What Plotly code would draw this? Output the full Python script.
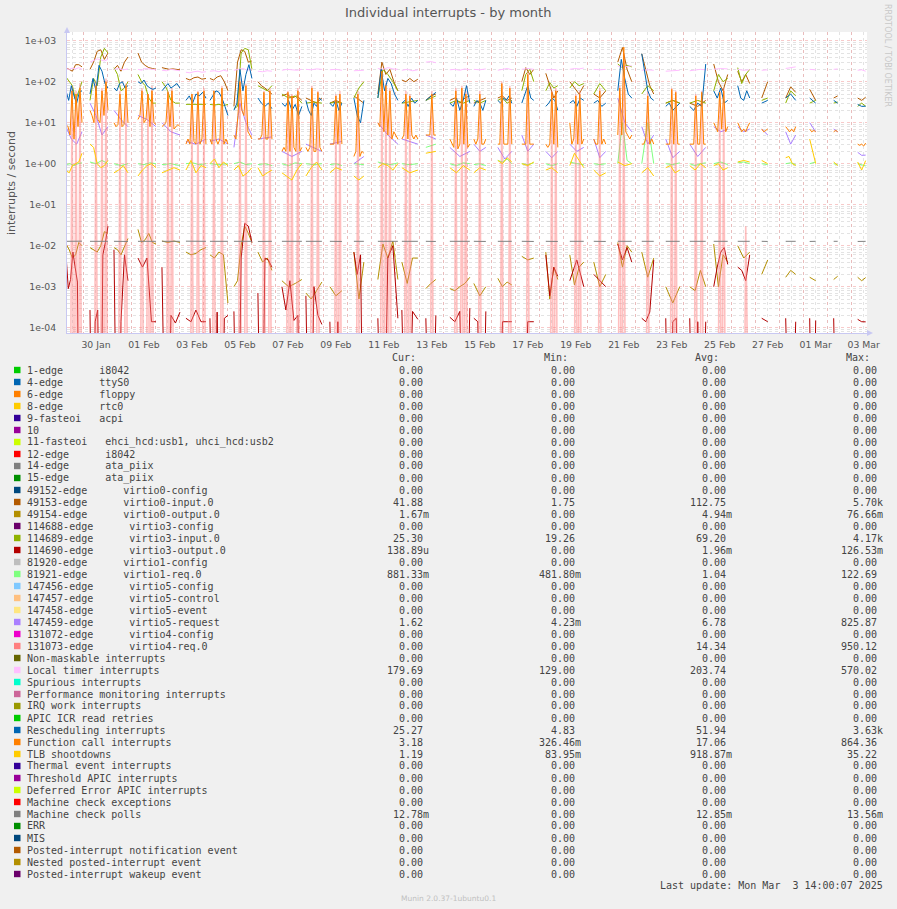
import plotly.graph_objects as go
from datetime import datetime, timedelta

# ---------------- data ----------------
TITLE = "Individual interrupts - by month"
Y_TITLE = "interrupts / second"
X_START = datetime(2025, 1, 29, 7, 0)
X_END = datetime(2025, 3, 3, 15, 20)
FIRST_BLOCK = datetime(2025, 1, 29, 6, 0)
BLOCK_HOURS = [16, 18, 14, 18, 18, 20, 18, 18, 14, 20, 16, 12, 10, 20, 16, 10, 20,
               12, 14, 12, 12, 14, 12, 14, 12, 14, 16, 14, 12, 6, 10, 6, 4, 8]
LABEL_DAYS = ["2025-01-30", "2025-02-01", "2025-02-03", "2025-02-05", "2025-02-07",
              "2025-02-09", "2025-02-11", "2025-02-13", "2025-02-15", "2025-02-17",
              "2025-02-19", "2025-02-21", "2025-02-23", "2025-02-25", "2025-02-27",
              "2025-03-01", "2025-03-03"]
Y_TICKS = [1e-4, 1e-3, 1e-2, 1e-1, 1e0, 1e1, 1e2, 1e3]
Y_TICKTEXT = ["1e-04", "1e-03", "1e-02", "1e-01", "1e+00", "1e+01", "1e+02", "1e+03"]

# per-day blocks of samples (values in interrupts / second)
V49153 = [[220,200,180,260,260,230],[200,300,550,600,350,500],[200,250,180,300,400],
          [500,300,250,220,210,200],[220,210,200,205,200,195],[120,110,125,130,115,120],
          [120,110,130,140,100,60],[25,300,600,550,300,320],[100,80,70,60,50],[45,50,40,45,35],
          [40,35,30,40],[30,35,30],[45,30],[50,300,150,200,100,60],[110,100,120,100,115],
          [35,45,50],[35,40,30,40,45],[30,35,40],[40,45,35,40],[100,220,150,200],[160,80,40,60],
          [100,70,50,80],[50,40,60],[300,680,200,100],[480,200,80,50],[30,35,30],[30,25,35],
          [270,100,60,150],[180,100,150,90],[40,100],[40,75,55],[65,35],[40,45],[40,35,41.88]]
V49154 = [[0.011,0.008,0.005,0.006,0.012,0.01],[0.009,0.008,0.007,0.01,0.022,0.02],
          [0.009,0.008,0.006,0.01,0.015],[0.025,0.012,0.014,0.02,0.012,0.011],
          [0.013,0.012,0.013,0.012],[0.007,0.006,0.0065,0.008,0.009],[0.006,0.005,0.007,0.006,0.0004],
          [0.001,0.0014,0.01,0.03,0.02,0.012],[0.007,0.004,0.005,0.0025],[0.0014,0.001,0.0012,0.0015],
          [0.0007,0.0005,0.0008,0.0013],[0.001,0.0006,0.0008],[0.007,0.0005,0.004],
          [0.0015,0.011,0.005,0.013,0.0015],[0.004,0.0012,0.005,0.005],[0.0009,0.0012,0.0015],
          [0.0009,0.0008,0.001,0.0012,0.0017],[0.0012,0.0006,0.001],[0.0016,0.001,0.0013,0.0011],
          [0.0055,0.0045,0.005],[0.007,0.0005,0.003,0.0015],[0.006,0.0011,0.003,0.004],
          [0.004,0.001,0.002],[0.012,0.003,0.01,0.007],[0.007,0.0017,0.005],[0.001,0.0004,0.001],
          [0.001,0.0008,0.0025,0.001],[0.011,0.001,0.006,0.004],[0.01,0.005,0.007],[0.002,0.0045],
          [0.0017,0.0025,0.002],[0.0017,0.0014],[0.0015,0.0018],[0.0017,0.0014,0.00167]]
V114689 = [[130,100,80,35,60,100],[35,120,80,400,650,500],[220,150,60,70,100],
           [150,100,80,40,30,30],[100,70,35,30,30],[28,28,29,28,28],[28,27,28,26,28],
           [22,25,500,650,600,200],[80,70,60,80],[50,40,45,30],[30,32,30],[30,32,30],[40,70,100],
           [40,200,150,100,60],[30,32,35],[35,40,45],[30,35,30,35],[35,30,35],[35,40,30,35],
           [60,150,200,100],[60,95,70,80],[70,100,80,90],[50,90,60],[270,220,250,230],[50,80,60],
           [30,35,30],[30,35,30],[60,150,100,120],[220,90,150,200],[35,40],[30,60,45],[30,35],
           [30,32],[25,30,25.3]]
V114690 = [[0.006,0.0009,0.0015,0.007,0.003,0.0013,0,0],[0.00027,0,0.00014,0.00027,0,0.006,0.012,0.03],
           [0.008,0,0.00014,0.006,0.0014],[0.005,0.003,0.005,0.00014,0.00014],
           [0.003,0,0.0002,0.00013,0.00024],[0.00017,0.00014,0.00027,0.00014,0.00014],
           [0.00017,0,0.00024,0,0.00017,0.0002],[0.00025,0,0.005,0.035,0.03,0.012],
           [0.0007,0,0.005,0.0045,0.003],[0.001,0.00027,0.0014,0.00015,0.0002,0],
           [0.0006,0,0.001,0.0002,0.00012],[0.00014,0,0.00014,0],[0.007,0.002,0.006,0],
           [0.00017,0,0.005,0.01,0.00017],[0.00027,0,0.00025,0.00016],[0.00017,0,0.0002],
           [0.00018,0.00014,0.00025,0,0.0003],[0.00017,0.00014,0,0.00025],[0,0.00014,0.00014,0.00014],
           [0,0.00014,0.00014],[0.006,0.0006,0.003,0.0018],[0.0014,0.0045,0.001],[0.002,0.0014,0.001],
           [0.011,0.0045,0.009,0.004],[0.00017,0.00014,0.00024,0.0045],[0.00017,0,0.00014,0.00017,0],
           [0.00017,0,0.00014,0,0.00014],[0.001,0.003,0.007,0.009,0.0035],[0.003,0.0025,0.0014,0.006],
           [0.00017,0.00014],[0.00017,0,0.00014],[0.00017,0,0.00015],[0.00017,0],[0.00016,0.00014,0.000139]]
V81921 = [[0.95,1.0,0.9,1.0,1.05],[1.1,1.0,1.2,1.0],[1.0,0.9,1.0],[1.0,0.95,1.05,1.0],[0.95,1.0,0.9],
          [1.0,1.05,0.95,1.0],[1.0,0.95,1.0],[1.0,1.1,0.95,1.0],[0.95,1.0,0.9],[1.0,0.9,1.05,1.0],
          [1.0,0.95,1.0],[0.95,1.0,0.9],[1.0,0.95],[1.1,1.0,0.95,1.05],[1.0,0.95,1.0],[2.5,2.8,3.0],
          [1.0,0.9,1.05,1.0],[0.95,1.0,0.9],[1.2,1.1,1.3,1.0],[1.0,0.95,1.05],[1.0,0.9,1.0],
          [1.1,1.0,0.95],[1.0,0.95,1.0],[1.0,10,1.2,1.0],[1.0,10,1.0],[1.0,0.95,1.05],
          [1.0,0.9,1.0,1.05],[1.0,1.1,0.95],[1.05,1.1,1.0],[1.0,0.95],[1.0,1.05,0.95],[1.0,1.1],
          [1.0,0.95],[1.0,0.95,0.881]]
V147459 = [[8,4,3,6],[30,15,5,8],[20,12,8],[15,12,8],[10,6,5],[3.5,3,4],[3.5,4,3],[2.5,30,10,5],
           [4,4.5],[2,1.5,2],[3,2],[3,3.5],[1,1.5],[10,5,3],[4,3],[5,4],[2.5,1.5,2],[3,2,2.5],
           [2.5,1.3,2],[5,2,3],[2,1.4,2],[3,2,2.5],[4,1.4,2],[40,10,6],[8,3,5],[4,1.4,2],
           [3,1.5,2.5],[8,6,7],[8,6,7],[7,5],[6,3,5],[10,6],[7,6],[1.9,1.6,1.62]]
V131073 = [[0,0,0,80,0,60,0,90,0],[0,0,0,100,0,0,70,0,120,0],[0,0,0,60,0,0,90,0],
           [0,0,70,0,0,50,0,80,0,0],[0,0,0,60,0,70,0,0,0,0],[0,0,0,50,0,0,60,0,0,70,0],
           [0,0,60,0,0,0,80,0,0,0],[0,0,0,120,0,0,90,0,0,0],[0,0,0,60,0,0,70,0],
           [0,0,0,60,0,50,0,0,70,0,0],[0,0,0,80,0,0,60,0,0],[0,0,0,50,0,60,0],[0,0,60,0,0,0],
           [0,0,150,0,90,0,70,0,0,0,0],[0,0,60,0,50,0,0,0,0],[0,0,0,60,0,0],
           [0,0,0,70,0,0,80,0,60,0,0],[0,0,0,60,0,0,0],[0,0,100,0,0,0,80,0],[0,0,0,180,0,0,0],
           [0,0,0,60,0,70,0],[0,0,0,50,0,60,0,0],[0,0,0,70,0,0,0],[0,80,0,500,0,0,0,0],
           [0,0,0,60,0,0,0],[0,0,0,70,0,60,0,0],[0,0,0,50,0,0,60,0,0],[0,0,0,60,0,70,0,0],
           [0,0,0,0,0.03,0,0],[0,0,0,0],[0,0,0,0,0,0],[0,0,0,0],[0,0,0],[0,0,0,0,0]]
LOCAL_TIMER = [[210,200,215,205,220,200],[300,330,360,340,320,350],[200,210,195,205],
               [200,190,210,205,200,195],[190,185,200,190,185],[170,165,175,180,170,175],
               [180,185,175,190,180],[190,200,210,190,205],[180,175,185,180],[190,200,195,190,200],
               [200,195,205,200],[195,200,190],[185,190],[210,200,220,205,200],[190,200,185,195],
               [300,310,290],[195,200,190,205,195],[200,195,205],[190,200,210,195],[200,210,200],
               [195,200,190],[200,210,205,215],[200,195,200],[240,230,245],[190,195,190],
               [180,185,190],[185,190,200,195],[200,210,205],[200,190,195],[190,195],[210,220,230],
               [200,195],[200,205],[190,195,179.69]]
RESCHED = [[60,35,80,45,30,55,60],[50,120,60,250,180,90,70],[70,60,90,100,70,80],
           [100,90,110,80,70,65,70],[60,75,90,70,80,90,70],[35,45,30,50,45,55,40],
           [35,45,60,55,40,25,15],[20,30,200,60,150,260,120],[40,30,25,30,22],[30,25,35,20,28,15,25],
           [35,20,15,30,25,40,35],[30,25,35,20,30],[40,15,10,35],[40,200,60,120,90,50,35],
           [30,35,25,40,30,35],[35,45,55],[30,25,40,20,35,80,30],[25,35,30,20,35],
           [35,30,40,35,45,30],[30,50,80,40,35],[25,30,40,35,20],[30,35,25,40,35],[30,35,25,30],
           [60,350,120,50,40],[480,150,60,40,35],[25,30,20,25,30],[25,20,30,25,270],[60,40,70,30,35],
           [80,40,35,60,40],[30,35],[40,50,35],[40,30],[35,30],[28,25,25.27]]
FUNC_CALL = [[9,8,5,60,4,50,8,70,10],[20,15,10,80,12,10,60,15,100,20],[10,8,9,50,8,9,80,10],
             [12,15,60,10,12,50,8,60,10,9],[8,9,10,55,8,60,7,8,9,8],[3,4,3,50,3.5,3,55,3,4,60,3],
             [4,3,60,4,3,4,70,3,4,3],[5,4,15,100,20,15,80,6,5,4],[4,4,5,55,4,4,60,4],
             [2,2.5,2,55,2,45,2.5,2,60,2,2.5],[2.5,2,2.5,70,2,2,55,2.5,2],[3,3,3,45,3,50,3],
             [1.5,2,50,1.5,2,1.8],[10,8,180,6,80,5,60,4,6,5,4],[4,5,50,4,45,5,4,5,4],[5,5,5,50,5,5],
             [4,3,2.5,60,2.3,3,70,3,50,2.5,3],[4,3,4,50,3,3,4],[3,3,90,3,3,3,70,3],[3,3,3,150,3,3,3],
             [3,2.5,3,55,3,60,2.5],[10,3,4,45,3,50,3,4],[4,3,3,60,3,4,3],[5,70,5,700,6,5,4,5],
             [3,3,4,45,3,4,3],[3,3,3,65,3,55,3,3],[3,3,3,45,3,3,55,3,3],[10,8,6,55,7,60,6,8],
             [10,8,6,7,6,8,10],[7,6,6.5,7],[8,7,6,7,6,8],[7,6,6.5,6],[6,6.5,6],[3,2.8,3,2.7,3.18]]
TLB = [[0.7,0.6,0.9,1.0,1.1,1.8],[3,2.5,1,0.8,0.9,1.2],[0.6,0.7,0.9,0.6],[0.5,0.7,0.9,1.0,0.8],
       [0.6,0.7,0.8,0.7],[0.7,1.2,0.6,0.9,0.8],[1.0,1.3,0.8,1.1,0.9],[0.7,0.9,0.5,0.6,0.8],
       [0.8,0.5,0.6,0.7],[0.6,0.5,0.4,0.7,1.0],[0.5,0.8,1.1,0.7],[0.6,0.8,0.7],[0.5,0.4,0.5],
       [0.8,1.0,0.9,0.7,1.0],[0.8,0.6,0.7],[1.8,1.9,2.0],[0.8,0.6,0.9,0.7],[0.6,0.8,0.7],
       [1.2,1.0,1.4,1.1],[1.0,0.9,1.1],[0.7,0.8,0.6],[0.9,1.8,1.2,0.8],[0.7,0.5,0.6],[1.1,0.9,1.0],
       [0.6,0.8,0.5],[0.8,0.9,0.6,0.7],[0.9,0.7,1.0,0.8],[0.9,1.0,0.7,0.8],[1.1,1.2,1.1],[1.2,1.0],
       [1.4,1.5,1.0,0.9],[4,1.0],[1.1,0.9],[1.1,0.7,1.19]]
MC_POLLS = [[0.0128,0.0129],[0.0128,0.0128],[0.0128,0.0127],[0.0128,0.0128],
            [0.0128,0.0128],[0.0129,0.0128],[0.0128,0.0128],[0.0128,0.0128],[0.0127,0.0128],
            [0.0128,0.0128],[0.0128,0.0128],[0.0128,0.0127],[0.0128,0.0128],[0.0128,0.0128],
            [0.0128,0.0128],[0.0128,0.0127],[0.0128,0.0128],[0.0128,0.0127],[0.0128,0.0128],
            [0.0128,0.0127],[0.0128,0.0127],[0.0128,0.0128],[0.0128,0.0127],[0.0128,0.0128],
            [0.0128,0.0128],[0.0128,0.0128],[0.0128,0.0128],[0.0128,0.0128],[0.0128,0.0128],
            [0.0128,0.0127],[0.0128,0.0128],[0.0127,0.0128],[0.0128,0.0128],[0.0127,0.01278]]

# legend table
LEG_NAMES = ["1-edge      i8042", "4-edge      ttyS0", "6-edge      floppy", "8-edge      rtc0",
             "9-fasteoi   acpi", "10", "11-fasteoi   ehci_hcd:usb1, uhci_hcd:usb2", "12-edge      i8042",
             "14-edge      ata_piix", "15-edge      ata_piix", "49152-edge      virtio0-config",
             "49153-edge      virtio0-input.0", "49154-edge      virtio0-output.0",
             "114688-edge      virtio3-config", "114689-edge      virtio3-input.0",
             "114690-edge      virtio3-output.0", "81920-edge      virtio1-config",
             "81921-edge      virtio1-req.0", "147456-edge      virtio5-config",
             "147457-edge      virtio5-control", "147458-edge      virtio5-event",
             "147459-edge      virtio5-request", "131072-edge      virtio4-config",
             "131073-edge      virtio4-req.0", "Non-maskable interrupts", "Local timer interrupts",
             "Spurious interrupts", "Performance monitoring interrupts", "IRQ work interrupts",
             "APIC ICR read retries", "Rescheduling interrupts", "Function call interrupts",
             "TLB shootdowns", "Thermal event interrupts", "Threshold APIC interrupts",
             "Deferred Error APIC interrupts", "Machine check exceptions", "Machine check polls",
             "ERR", "MIS", "Posted-interrupt notification event", "Nested posted-interrupt event",
             "Posted-interrupt wakeup event"]
LEG_COLORS = ["#00CC00", "#0066B3", "#FF8000", "#FFCC00", "#330099", "#990099", "#CCFF00", "#FF0000",
              "#808080", "#008F00", "#00487D", "#B35A00", "#B38F00", "#6B006B", "#8FB300", "#B30000",
              "#BEBEBE", "#80FF80", "#80C9FF", "#FFC080", "#FFE680", "#AA80FF", "#EE00CC", "#FF8080",
              "#666600", "#FFBFFF", "#00FFCC", "#CC6699", "#999900", "#00CC00", "#0066B3", "#FF8000",
              "#FFCC00", "#330099", "#990099", "#CCFF00", "#FF0000", "#808080", "#008F00", "#00487D",
              "#B35A00", "#B38F00", "#6B006B"]
Z = "0.00"
CUR = [Z]*11 + ["41.88", "1.67m", Z, "25.30", "138.89u", Z, "881.33m", Z, Z, Z, "1.62", Z, Z, Z,
                "179.69", Z, Z, Z, Z, "25.27", "3.18", "1.19", Z, Z, Z, Z, "12.78m", Z, Z, Z, Z, Z]
MIN = [Z]*11 + ["1.75", Z, Z, "19.26", Z, Z, "481.80m", Z, Z, Z, "4.23m", Z, Z, Z,
                "129.00", Z, Z, Z, Z, "4.83", "326.46m", "83.95m", Z, Z, Z, Z, Z, Z, Z, Z, Z, Z]
AVG = [Z]*11 + ["112.75", "4.94m", Z, "69.20", "1.96m", Z, "1.04", Z, Z, Z, "6.78", Z, "14.34", Z,
                "203.74", Z, Z, Z, Z, "51.94", "17.06", "918.87m", Z, Z, Z, Z, "12.85m", Z, Z, Z, Z, Z]
MAX = [Z]*11 + ["5.70k", "76.66m", Z, "4.17k", "126.53m", Z, "122.69", Z, Z, Z, "825.87", Z, "950.12", Z,
                "570.02", Z, Z, Z, Z, "3.63k", "864.36", "35.22", Z, Z, Z, Z, "13.56m", Z, Z, Z, Z, Z]
LAST_UPDATE = "Last update: Mon Mar  3 14:00:07 2025"
FOOTER = "Munin 2.0.37-1ubuntu0.1"
WATERMARK = "RRDTOOL / TOBI OETIKER"

# ---------------- layout geometry ----------------
W, H = 897, 909
PL, PR, PT, PB = 67, 867, 32, 333
PW, PH = PR - PL, PB - PT
FLOOR = 1e-9


def fx(x):
    return (x - PL) / PW


def fy(y):
    return (PB - y) / PH


def series_xy(blocks):
    xs, ys = [], []
    for k, vals in enumerate(blocks):
        start = FIRST_BLOCK + timedelta(days=k)
        hrs = BLOCK_HOURS[k]
        n = len(vals)
        for i, v in enumerate(vals):
            t = start + timedelta(hours=hrs * i / (n - 1 if n > 1 else 1))
            xs.append(t.strftime("%Y-%m-%d %H:%M:%S"))
            ys.append(v if v > 0 else FLOOR)
        xs.append(None)
        ys.append(None)
    return xs, ys


fig = go.Figure()
PLOT_SERIES = [
    (V49153, "#B35A00", 1.0, 1.0, "x"),
    (V49154, "#B38F00", 1.0, 1.0, "x"),
    (V114689, "#8FB300", 1.0, 1.0, "x"),
    (V114690, "#B30000", 1.0, 1.0, "x"),
    (V81921, "#80FF80", 1.0, 1.0, "x"),
    (V147459, "#AA80FF", 1.0, 1.0, "x"),
    (V131073, "#FF8080", 1.6, 0.5, "x"),
    (LOCAL_TIMER, "#FFBFFF", 1.0, 1.0, "x"),
    (RESCHED, "#0066B3", 1.0, 1.0, "x"),
    (FUNC_CALL, "#FF8000", 1.0, 1.0, "x"),
    (TLB, "#FFCC00", 1.0, 1.0, "x"),
    (MC_POLLS, "#808080", 1.0, 1.0, "x2"),
]
for blocks, col, wdt, op, xa in PLOT_SERIES:
    xs, ys = series_xy(blocks)
    fig.add_trace(go.Scatter(x=xs, y=ys, mode="lines", line=dict(color=col, width=wdt),
                             opacity=op, showlegend=False, hoverinfo="skip",
                             connectgaps=False, xaxis=xa, yaxis="y"))

tick_pos = [(datetime.strptime(d, "%Y-%m-%d") + timedelta(hours=12)).strftime("%Y-%m-%d %H:%M")
            for d in LABEL_DAYS]
tick_txt = [datetime.strptime(d, "%Y-%m-%d").strftime("%d %b") for d in LABEL_DAYS]
minor_y = [m * 10 ** e for e in range(-5, 4) for m in range(2, 10)]

GRID_MAJ = "rgba(240,150,150,0.5)"
GRID_MIN = "rgba(200,200,200,0.5)"
AX_COL = "#C8C8F2"
TICKFONT = dict(family="DejaVu Sans", size=9.3, color="#555555")
xr = [X_START.strftime("%Y-%m-%d %H:%M"), X_END.strftime("%Y-%m-%d %H:%M")]

fig.update_layout(
    width=W, height=H, autosize=False,
    margin=dict(l=PL, r=W - PR, t=PT, b=H - PB, pad=0),
    paper_bgcolor="#F0F0F0", plot_bgcolor="#FFFFFF",
    showlegend=False,
    xaxis=dict(type="date", range=xr, tickvals=tick_pos, ticktext=tick_txt, showgrid=False,
               ticks="", tickfont=TICKFONT, showline=True, linecolor=AX_COL, linewidth=1,
               zeroline=False, automargin=False, fixedrange=True, ticklabelstandoff=3,
               minor=dict(dtick=43200000, tick0="2025-01-29 00:00", showgrid=True,
                          gridcolor=GRID_MIN, griddash="dot", gridwidth=1, ticks="")),
    xaxis2=dict(type="date", range=xr, overlaying="x", anchor="y", side="bottom",
                tick0="2025-01-29 00:00", dtick=86400000, showgrid=True, gridcolor=GRID_MAJ,
                griddash="dot", gridwidth=1, showticklabels=False, ticks="", showline=False,
                zeroline=False, automargin=False, fixedrange=True),
    yaxis=dict(type="log", range=[-4.129, 3.212], tickvals=Y_TICKS, ticktext=Y_TICKTEXT,
               showgrid=True, gridcolor=GRID_MAJ, griddash="dot", gridwidth=1, ticks="",
               tickfont=TICKFONT, showline=True, linecolor=AX_COL, linewidth=1, zeroline=False,
               automargin=False, fixedrange=True, ticklabelstandoff=8,
               minor=dict(tickvals=minor_y, showgrid=True, gridcolor=GRID_MIN, griddash="dot",
                          gridwidth=1, ticks="")),
)

ann = []
shapes = []
ann.append(dict(text=TITLE, x=fx(447.5), y=fy(13), xref="paper", yref="paper", showarrow=False,
                xanchor="center", yanchor="middle", font=dict(family="DejaVu Sans", size=13, color="#555555")))
ann.append(dict(text=Y_TITLE, x=fx(11), y=fy(183), xref="paper", yref="paper", showarrow=False,
                textangle=-90, xanchor="center", yanchor="middle",
                font=dict(family="DejaVu Sans", size=11, color="#555555")))
ann.append(dict(text=WATERMARK, x=fx(887), y=fy(56), xref="paper", yref="paper", showarrow=False,
                textangle=90, xanchor="center", yanchor="middle",
                font=dict(family="DejaVu Sans", size=8, color="#C8C8C8")))

MONO = "DejaVu Sans Mono"
LEG_FONT = dict(family=MONO, size=10, color="#444444")
ROW0, ROWH = 370, 12
COL_END = [424, 576, 727, 878]
HEAD_END = [417, 569, 720, 871]
for txt, xe in zip(["Cur:", "Min:", "Avg:", "Max:"], HEAD_END):
    ann.append(dict(text=txt, x=fx(xe), y=fy(357.5), xref="paper", yref="paper", showarrow=False,
                    xanchor="right", yanchor="middle", borderpad=0, font=LEG_FONT))

for i, name in enumerate(LEG_NAMES):
    yc = ROW0 + ROWH * i
    shapes.append(dict(type="rect", xref="paper", yref="paper", x0=fx(14), x1=fx(20.5),
                       y0=fy(yc - 3.2), y1=fy(yc + 3.2), fillcolor=LEG_COLORS[i], line=dict(width=0)))
    ann.append(dict(text=name.replace(" ", "\u00a0"), x=fx(26), y=fy(yc), xref="paper", yref="paper",
                    showarrow=False, xanchor="left", yanchor="middle", borderpad=0, font=LEG_FONT))
    for col, xe in zip([CUR, MIN, AVG, MAX], COL_END):
        s = col[i]
        txt = s if s[-1].isalpha() else s + "\u00a0"
        ann.append(dict(text=txt, x=fx(xe + 6), y=fy(yc), xref="paper", yref="paper",
                        showarrow=False, xanchor="right", yanchor="middle", borderpad=0, font=LEG_FONT))

ann.append(dict(text=LAST_UPDATE.replace(" ", "\u00a0"), x=fx(884), y=fy(886), xref="paper", yref="paper",
                showarrow=False, xanchor="right", yanchor="middle", borderpad=0, font=LEG_FONT))
ann.append(dict(text=FOOTER, x=fx(448), y=fy(898), xref="paper", yref="paper", showarrow=False,
                xanchor="center", yanchor="middle", font=dict(family="DejaVu Sans", size=7.5, color="#C0C0C0")))

# axis arrows
shapes.append(dict(type="path", xref="paper", yref="paper",
                   path=f"M {fx(64)} {fy(33)} L {fx(67)} {fy(27)} L {fx(70)} {fy(33)} Z",
                   fillcolor=AX_COL, line=dict(width=0)))
shapes.append(dict(type="path", xref="paper", yref="paper",
                   path=f"M {fx(867)} {fy(330)} L {fx(873)} {fy(333)} L {fx(867)} {fy(336)} Z",
                   fillcolor=AX_COL, line=dict(width=0)))

fig.update_layout(annotations=ann, shapes=shapes)
fig.write_html("out.html")
